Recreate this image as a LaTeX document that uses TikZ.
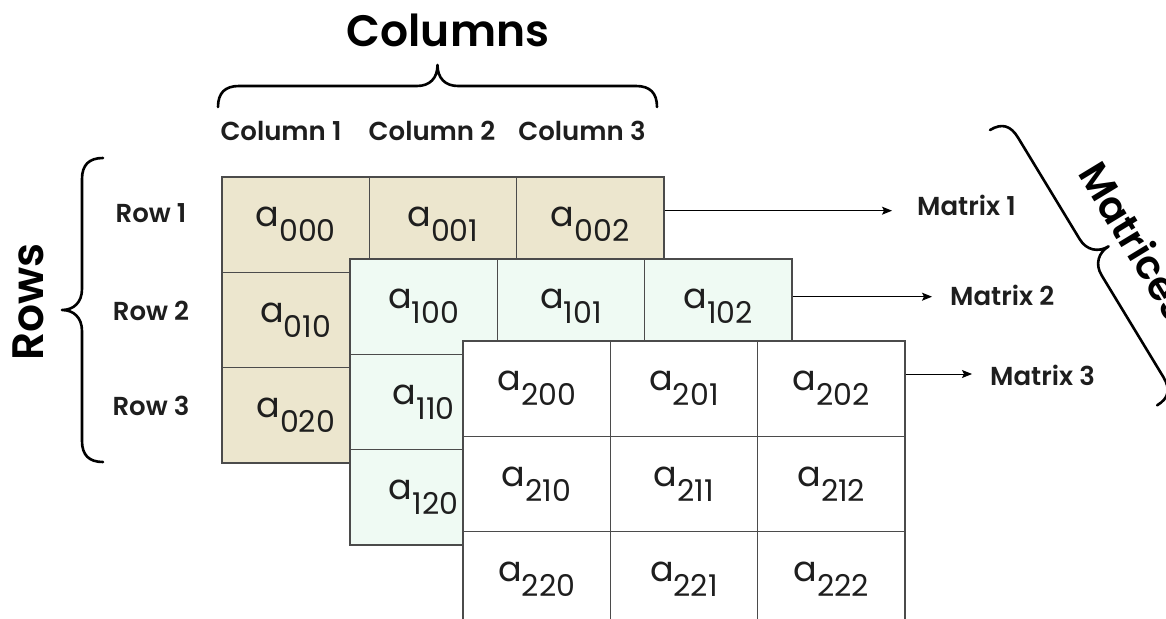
\documentclass[tikz,border=0pt]{standalone}
\usepackage{fontspec}
\setmainfont{Poppins}
\newfontfamily\psemi{Poppins SemiBold}
\usetikzlibrary{arrows.meta,calc}
\definecolor{tanc}{RGB}{236,230,206}
\definecolor{mintc}{RGB}{239,250,243}
\definecolor{edgec}{RGB}{75,75,75}
\definecolor{txtc}{RGB}{30,30,30}
\newcommand\ael[1]{{\fontsize{35}{35}\selectfont a}\raisebox{-15pt}{\fontsize{30}{30}\selectfont #1}}
\tikzset{
 cell/.style={draw=edgec, line width=1.3pt, minimum width=147.3pt, minimum height=95.3pt, inner sep=0pt, text=txtc},
 lab/.style={font=\psemi\fontsize{26}{26}\selectfont, text=txtc, inner sep=0pt},
 big/.style={font=\psemi\fontsize{44}{44}\selectfont, inner sep=0pt},
 arr/.style={-{Stealth[length=10pt,width=8pt,inset=2pt]}, line width=1pt},
 brc/.style={line width=2.6pt, line cap=round, line join=round},
}
\begin{document}
\begin{tikzpicture}[x=1pt,y=-1pt]
\useasboundingbox (0,0) rectangle (1166,618);
\clip (0,0) rectangle (1166,618);
\fill[white] (0,0) rectangle (1166,618);
% matrices
\foreach \k/\ox/\oy/\fc in {0/222/177/tanc,1/350/259/mintc,2/463/341/white}{
  \foreach \i in {0,1,2}{
    \foreach \j in {0,1,2}{
      \node[cell, fill=\fc] (c\k\i\j) at ({\ox+147.3*(\j+0.5)},{\oy+95.3*(\i+0.5)}) {\ael{\k\i\j}};
    }
  }
}
% titles
\node[big, anchor=base] (tcol) at (448,46) {Columns};
\node[big, anchor=base, rotate=90] (trow) at (43,302) {Rows};
% column labels
\node[lab, anchor=base] (col1) at (281,140) {Column 1};
\node[lab, anchor=base] (col2) at (432,140) {Column 2};
\node[lab, anchor=base] (col3) at (582,140) {Column 3};
% row labels
\node[lab, anchor=base] (row1) at (151,222) {Row 1};
\node[lab, anchor=base] (row2) at (151,320) {Row 2};
\node[lab, anchor=base] (row3) at (151,415) {Row 3};
% matrix labels and arrows
\node[lab, anchor=base west] (l1) at (917,215) {Matrix 1};
\node[lab, anchor=base west] (l2) at (950,305) {Matrix 2};
\node[lab, anchor=base west] (l3) at (990,385) {Matrix 3};
\coordinate (a1) at (892,210.7);
\coordinate (a2) at (932,296.7);
\coordinate (a3) at (972,374);
\draw[arr] (c002.east |- a1) -- (a1);
\draw[arr] (c102.east |- a2) -- (a2);
\draw[arr] (c202.east |- a3) -- (a3);
% braces
\draw[brc] (218,107) .. controls (218,93) and (225,86) .. (239,86) -- (417,86) .. controls (430,86) and (437.5,78) .. (437.5,65) .. controls (437.5,78) and (445,86) .. (458,86) -- (636,86) .. controls (650,86) and (657,93) .. (657,107);
\draw[brc] (103,158) .. controls (89,158) and (82,165) .. (82,179) -- (82,289) .. controls (82,302) and (74,310) .. (62,310) .. controls (74,310) and (82,318) .. (82,331) -- (82,441) .. controls (82,455) and (89,462) .. (103,462);
\begin{scope}[shift={(990,130)}, x={(0.519pt,-0.855pt)}, y={(0.855pt,0.519pt)}]
\draw[brc] (0,0) .. controls (0,14) and (7,20) .. (21,20) -- (140,20) .. controls (153,20) and (161,29) .. (161,41) .. controls (161,29) and (169,20) .. (182,20) -- (301,20) .. controls (315,20) and (322,14) .. (322,0);
\node[big, font=\psemi\fontsize{40}{40}\selectfont, anchor=base west, rotate=-58.7] (tmat) at (82,52) {Matrices};
\end{scope}
\end{tikzpicture}
\end{document}
